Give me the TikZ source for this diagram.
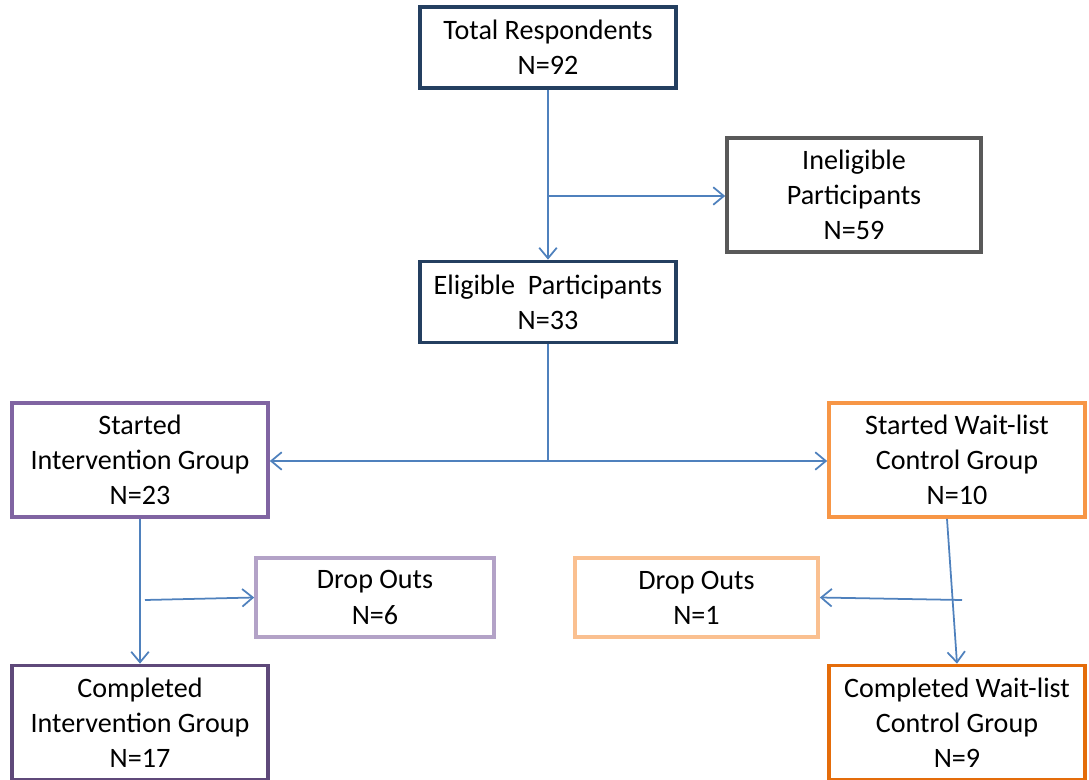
\documentclass[tikz,border=0pt]{standalone}
\usepackage{fontspec}
\setmainfont{Carlito}
\usetikzlibrary{arrows.meta}
\definecolor{navy}{HTML}{243F60}
\definecolor{slate}{HTML}{595959}
\definecolor{purp}{HTML}{8064A2}
\definecolor{lpurp}{HTML}{B3A2C7}
\definecolor{dpurp}{HTML}{5F497A}
\definecolor{orng}{HTML}{F79646}
\definecolor{lorng}{HTML}{FAC090}
\definecolor{dorng}{HTML}{E46C0A}
\definecolor{linkblue}{HTML}{4F81BD}

\begin{document}
\begin{tikzpicture}[x=0.02cm, y=-0.02cm,
    font=\fontsize{16}{20}\selectfont,
    c/.style={draw, line width=2.1pt, fill=white, minimum width=5.12cm, minimum height=1.62cm,
              align=center, inner sep=2pt},
    link/.style={draw=linkblue, line width=1pt, -{Straight Barb[length=6pt,width=10pt]}}]
    \useasboundingbox (0,0) rectangle (1089,780);

    \node[c, draw=navy]  (total) at (548,47.5) {Total Respondents\\N=92};
    \node[c, draw=slate, minimum width=5.08cm, minimum height=2.28cm] (inel) at (854,195) {Ineligible\\Participants\\N=59};
    \node[c, draw=navy]  (elig) at (548,302) {Eligible~ Participants\\N=33};

    \node[c, draw=purp, minimum height=2.28cm] (startI) at (140,460) {Started\\Intervention Group\\N=23};
    \node[c, draw=orng, minimum height=2.28cm] (startW) at (957,460) {Started Wait-list\\Control Group\\N=10};

    \node[c, draw=lpurp, minimum width=4.76cm, minimum height=1.58cm] (dropI) at (375,597.5) {Drop Outs\\N=6};
    \node[c, draw=lorng, minimum width=4.86cm, minimum height=1.58cm] (dropW) at (696.5,597.5) {Drop Outs\\N=1};

    \node[c, draw=dpurp, minimum height=2.28cm] (compI) at (140,722.5) {Completed\\Intervention Group\\N=17};
    \node[c, draw=dorng, minimum height=2.28cm] (compW) at (957,722.5) {Completed Wait-list\\Control Group\\N=9};

    % split points
    \coordinate (sp1) at (548,196);
    \coordinate (sp2) at (548,461);
    \coordinate (sp3) at (145,600);
    \coordinate (sp4) at (962,600);

    \draw[link] (total) -- (elig);
    \draw[link] (sp1) -- (sp1 -| inel.west);
    \draw[linkblue, line width=1pt] (elig) -- (sp2);
    \draw[link] (sp2) -- (sp2 -| startI.east);
    \draw[link] (sp2) -- (sp2 -| startW.west);
    \draw[link] (startI) -- (compI);
    \draw[link] (sp3) -- (dropI.west);
    \draw[link] ([xshift=-0.2cm]startW.south) -- (compW.north);
    \draw[link] (sp4) -- (dropW.east);
\end{tikzpicture}
\end{document}
